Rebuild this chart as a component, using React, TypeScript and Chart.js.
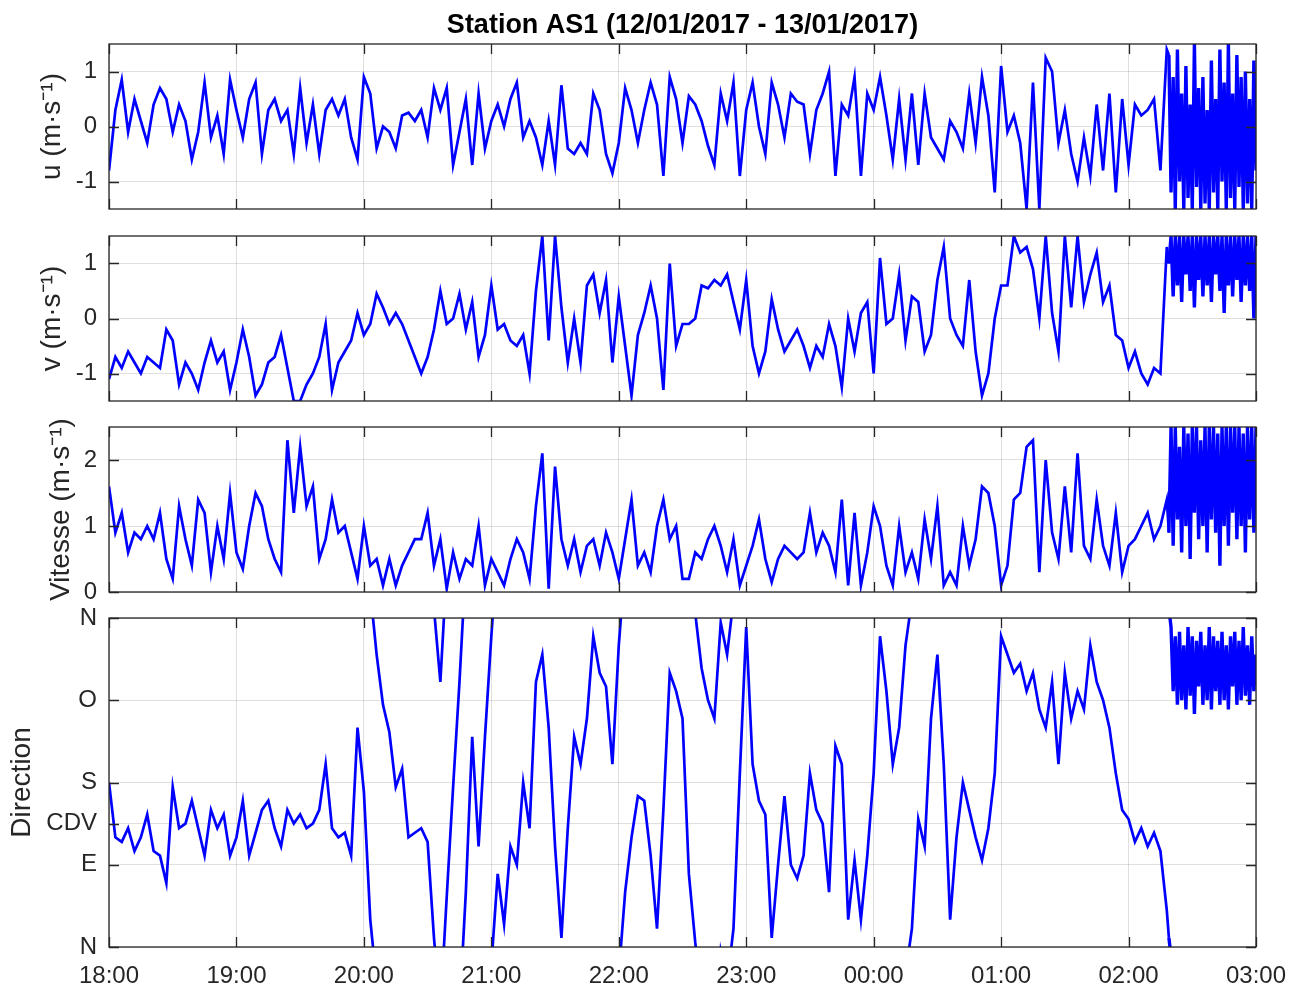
import React, { useEffect, useRef } from "react";
import { Chart, registerables } from "chart.js";

Chart.register(...registerables);

// ---------------- data ----------------
const TITLE = "Station AS1 (12/01/2017 - 13/01/2017)";
const START_HOUR = 18;
// minutes after 18:00 for each hour tick (18:00 ... 03:00)
const HOUR_TICKS = [0, 60, 120, 180, 240, 300, 360, 420, 480, 540];

// sampling: every 3 min from 18:00 to 02:18, then every minute 02:19 – 03:00
const COARSE_STEP_MIN = 3;
const COARSE_COUNT = 167;
const BURST_START_MIN = 499;
const BURST_COUNT = 42;
const sampleMinutes: number[] = [
  ...Array.from({ length: COARSE_COUNT }, (_, i) => i * COARSE_STEP_MIN),
  ...Array.from({ length: BURST_COUNT }, (_, i) => BURST_START_MIN + i),
];

// u (m/s)
const uCoarse = [
  -0.8, 0.3, 0.85, -0.1, 0.5, 0.1, -0.3, 0.4, 0.7, 0.5, -0.1, 0.4, 0.1, -0.6, -0.1, 0.8, -0.2, 0.2, -0.5, 0.85, 0.3,
  -0.2, 0.5, 0.8, -0.5, 0.3, 0.5, 0.1, 0.3, -0.5, 0.7, -0.3, 0.4, -0.5, 0.3, 0.5, 0.2, 0.5, -0.2, -0.6, 0.9,
  0.6, -0.4, 0.0, -0.1, -0.4, 0.2, 0.25, 0.1, 0.3, -0.2, 0.7, 0.3, 0.7, -0.7, -0.1, 0.5, -0.7, 0.6, -0.4, 0.1,
  0.4, 0.0, 0.5, 0.8, -0.2, 0.1, -0.2, -0.7, 0.1, -0.7, 0.75, -0.4, -0.5, -0.3, -0.5, 0.6, 0.3, -0.5, -0.85, -0.3,
  0.7, 0.3, -0.3, 0.3, 0.8, 0.4, -0.9, 0.9, 0.5, -0.3, 0.55, 0.4, 0.1, -0.35, -0.7, 0.6, 0.1, 0.8, -0.9, 0.3,
  0.8, 0.0, -0.5, 0.8, 0.4, -0.2, 0.6, 0.45, 0.4, -0.5, 0.3, 0.6, 1.0, -0.9, 0.4, 0.2, 0.9, -0.9, 0.6, 0.3,
  0.9, 0.2, -0.6, 0.5, -0.6, 0.6, -0.7, 0.6, -0.2, -0.4, -0.6, 0.1, -0.1, -0.4, 0.6, -0.3, 0.9, 0.2, -1.2, 1.1,
  -0.1, 0.2, -0.3, -1.5, 0.8, -1.5, 1.25, 1.0, -0.3, 0.3, -0.5, -1.0, -0.2, -0.9, 0.4, -0.8, 0.6, -1.2, 0.5, -0.7,
  0.4, 0.2, 0.3, 0.5, -0.8, 1.4,
];
const uBurst = [
  1.3, -1.2, 0.9, -1.5, 1.4, -1.0, 0.6, -1.5, 1.1, -1.3, 0.4, -1.5, 1.5, -1.1, 0.7, -1.5, 0.9, -1.4, 0.3, -1.5,
  1.2, -1.2, 0.5, -1.5, 1.4, -1.0, 0.8, -1.5, 1.5, -1.3, 0.6, -1.5, 1.3, -1.1, 0.9, -1.5, 1.0, -1.4, 0.5, -1.5,
  1.2, -0.8,
];

// v (m/s)
const vCoarse = [
  -1.1, -0.7, -0.9, -0.6, -0.8, -1.0, -0.7, -0.8, -0.9, -0.2, -0.4, -1.2, -0.8, -1.0, -1.3, -0.8, -0.4, -0.8, -0.6, -1.3, -0.8,
  -0.2, -0.7, -1.4, -1.2, -0.8, -0.7, -0.3, -0.9, -1.5, -1.5, -1.2, -1.0, -0.7, -0.1, -1.3, -0.8, -0.6, -0.4, 0.1, -0.3,
  -0.1, 0.45, 0.2, -0.1, 0.1, -0.1, -0.4, -0.7, -1.0, -0.7, -0.2, 0.5, -0.1, 0.0, 0.45, -0.2, 0.3, -0.7, -0.3, 0.6,
  -0.2, -0.1, -0.4, -0.5, -0.3, -1.0, 0.5, 1.5, -0.4, 1.5, 0.2, -0.8, 0.0, -0.8, 0.6, 0.8, 0.1, 0.7, -0.8, 0.4,
  -0.5, -1.4, -0.3, 0.1, 0.6, 0.0, -1.3, 1.0, -0.5, -0.1, -0.1, 0.0, 0.6, 0.55, 0.7, 0.6, 0.8, 0.3, -0.2, 0.7,
  -0.5, -1.0, -0.6, 0.35, -0.2, -0.6, -0.4, -0.2, -0.5, -0.9, -0.5, -0.7, -0.1, -0.5, -1.25, 0.0, -0.6, 0.1, 0.3, -1.0,
  1.1, -0.1, 0.0, 0.8, -0.4, 0.4, 0.3, -0.6, -0.3, 0.7, 1.3, 0.0, -0.3, -0.5, 0.7, -0.6, -1.4, -1.0, 0.0, 0.6,
  0.6, 1.5, 1.2, 1.3, 0.9, 0.0, 1.5, 0.1, -0.6, 1.5, 0.2, 1.5, 0.3, 0.8, 1.2, 0.3, 0.6, -0.3, -0.4, -0.9,
  -0.6, -1.0, -1.2, -0.9, -1.0, 1.3,
];
const vBurst = [
  1.0, 1.5, 0.4, 1.5, 0.6, 1.5, 0.3, 1.5, 0.8, 1.5, 0.5, 1.5, 0.2, 1.5, 0.7, 1.5, 0.4, 1.5, 0.6, 1.5,
  0.3, 1.5, 0.8, 1.5, 0.5, 1.5, 0.1, 1.5, 0.6, 1.5, 0.4, 1.5, 0.7, 1.5, 0.3, 1.5, 0.6, 1.5, 0.5, 1.5,
  0.0, 1.5,
];

// Vitesse (m/s)
const speedCoarse = [
  1.6, 0.9, 1.2, 0.6, 0.9, 0.8, 1.0, 0.8, 1.2, 0.5, 0.2, 1.3, 0.8, 0.4, 1.4, 1.2, 0.3, 1.0, 0.5, 1.5, 0.6,
  0.35, 1.0, 1.5, 1.3, 0.8, 0.5, 0.3, 2.3, 1.2, 2.2, 1.3, 1.6, 0.5, 0.8, 1.4, 0.9, 1.0, 0.6, 0.2, 1.0,
  0.4, 0.5, 0.1, 0.5, 0.1, 0.4, 0.6, 0.8, 0.8, 1.2, 0.4, 0.8, 0.05, 0.6, 0.2, 0.5, 0.4, 1.0, 0.1, 0.5,
  0.3, 0.1, 0.5, 0.8, 0.6, 0.2, 1.3, 2.1, 0.05, 1.9, 0.8, 0.4, 0.8, 0.3, 0.7, 0.8, 0.4, 0.9, 0.6, 0.2,
  0.8, 1.4, 0.4, 0.6, 0.3, 1.0, 1.4, 0.8, 1.0, 0.2, 0.2, 0.6, 0.5, 0.8, 1.0, 0.7, 0.3, 0.8, 0.1, 0.4,
  0.7, 1.1, 0.5, 0.15, 0.5, 0.7, 0.6, 0.5, 0.6, 1.2, 0.6, 0.9, 0.7, 0.3, 1.4, 0.1, 1.2, 0.1, 0.6, 1.3,
  1.0, 0.4, 0.1, 1.0, 0.3, 0.6, 0.2, 1.1, 0.5, 1.3, 0.1, 0.3, 0.1, 1.0, 0.4, 0.8, 1.6, 1.5, 1.0, 0.1,
  0.4, 1.4, 1.5, 2.2, 2.3, 0.3, 2.0, 0.9, 0.5, 1.6, 0.6, 2.1, 0.7, 0.5, 1.4, 0.7, 0.4, 1.2, 0.3, 0.7,
  0.8, 1.0, 1.2, 0.8, 1.0, 1.4,
];
const speedBurst = [
  0.9, 2.5, 0.7, 2.5, 1.1, 2.2, 0.6, 2.5, 1.0, 2.4, 0.5, 2.5, 1.2, 2.5, 0.8, 2.3, 1.0, 2.5, 0.6, 2.5,
  1.1, 2.5, 0.9, 2.4, 0.4, 2.5, 1.0, 2.5, 0.7, 2.5, 1.2, 2.5, 0.8, 2.5, 1.0, 2.4, 0.6, 2.5, 1.1, 2.5,
  0.9, 2.5,
];

// Direction (degrees, 0 = N, 90 = E, 180 = S, 270 = O)
const dirCoarse = [
  180, 120, 115, 130, 105, 120, 145, 105, 100, 70, 175, 130, 135, 160, 130, 100, 150, 130, 145, 100, 120,
  160, 100, 125, 150, 160, 130, 110, 150, 135, 145, 130, 135, 150, 200, 130, 120, 125, 100, 240, 170,
  30, 320, 265, 235, 175, 195, 120, 125, 130, 115, 10, 290, 55, 175, 290, 60, 230, 110, 230, 340,
  80, 25, 110, 90, 180, 130, 290, 320, 240, 110, 10, 130, 230, 200, 250, 340, 300, 285, 200, 330,
  60, 120, 165, 160, 100, 20, 150, 300, 280, 250, 80, 5, 305, 270, 250, 355, 320, 20, 190, 350,
  200, 160, 145, 10, 90, 165, 90, 75, 100, 190, 150, 135, 60, 220, 200, 30, 95, 30, 100, 190,
  340, 280, 200, 240, 330, 20, 140, 110, 250, 320, 200, 30, 120, 180, 150, 120, 95, 130, 190, 340,
  320, 300, 310, 280, 300, 260, 240, 290, 200, 300, 250, 280, 260, 330, 290, 270, 240, 190, 150, 140,
  115, 130, 110, 125, 105, 40,
];
const dirBurst = [
  10, 350, 280, 340, 265, 345, 270, 330, 260, 350, 275, 340, 255, 335, 285, 345, 265, 330, 270, 350,
  260, 340, 280, 335, 265, 345, 270, 330, 260, 340, 285, 345, 265, 335, 270, 350, 275, 330, 265, 340,
  280, 320,
];

const U_TICKS = [-1, 0, 1];
const V_TICKS = [-1, 0, 1];
const SPEED_TICKS = [0, 1, 2];
const DIR_TICKS = [0, 90, 135, 180, 270, 360];
const DIR_TICK_LABELS = ["N", "E", "CDV", "S", "O", "N"];

// ---------------- styling ----------------
const BLUE = "#0000ff";
const AXIS_COLOR = "#262626";
const GRID_COLOR = "rgba(38,38,38,0.15)";
const SANS = "'Liberation Sans', Arial, Helvetica, sans-serif";
const CANVAS_W = 1299;
const AREA_LEFT = 109;
const AREA_RIGHT = 1256;
const TICK_LEN = 10;
const TITLE_SIZE = 27;
const TITLE_PAD = { top: 3, bottom: 5 };
const TICK_FONT_SIZE = 24;
const LINE_W = 2.7;
const BURST_LINE_W = 3.4;

const hourLabel = (m: number) => `${String((START_HOUR + Math.round(m / 60)) % 24).padStart(2, "0")}:00`;

function unwrapDegrees(values: number[]): number[] {
  const out: number[] = [];
  values.forEach((v, i) => {
    if (i === 0) {
      out.push(v);
      return;
    }
    let d = v - values[i - 1];
    if (d > 180) d -= 360;
    if (d < -180) d += 360;
    out.push(out[i - 1] + d);
  });
  return out;
}

const framePlugin = {
  id: "matlabFrame",
  afterDraw(chart: any) {
    const { ctx, chartArea } = chart;
    const { left, right, top, bottom } = chartArea;
    const xs = chart.scales.x;
    const ys = chart.scales.y;
    ctx.save();
    ctx.strokeStyle = AXIS_COLOR;
    ctx.lineWidth = 1.3;
    ctx.beginPath();
    for (const t of xs.ticks) {
      const px = Math.round(xs.getPixelForValue(t.value)) + 0.5;
      ctx.moveTo(px, bottom);
      ctx.lineTo(px, bottom - TICK_LEN);
      ctx.moveTo(px, top);
      ctx.lineTo(px, top + TICK_LEN);
    }
    for (const t of ys.ticks) {
      const py = Math.round(ys.getPixelForValue(t.value)) + 0.5;
      ctx.moveTo(left, py);
      ctx.lineTo(left + TICK_LEN, py);
      ctx.moveTo(right, py);
      ctx.lineTo(right - TICK_LEN, py);
    }
    ctx.stroke();
    ctx.strokeRect(left, top, right - left, bottom - top);
    ctx.restore();
  },
};

type PanelCfg = {
  id: string;
  areaTop: number;
  areaBottom: number;
  min: number;
  max: number;
  ticks: number[];
  tickLabels?: string[];
  yTitle: string;
  yTitlePad: number;
  showTitle?: boolean;
  showX?: boolean;
  series: () => { x: number; y: number }[][];
};

const toPoints = (vals: number[]) => sampleMinutes.map((t, i) => ({ x: t, y: vals[i] }));

const PANELS: PanelCfg[] = [
  {
    id: "u", areaTop: 44, areaBottom: 209, min: -1.5, max: 1.5, ticks: U_TICKS,
    yTitle: "u (m·s⁻¹)", yTitlePad: 35, showTitle: true,
    series: () => [toPoints(uCoarse.concat(uBurst))],
  },
  {
    id: "v", areaTop: 236, areaBottom: 401, min: -1.5, max: 1.5, ticks: V_TICKS,
    yTitle: "v (m·s⁻¹)", yTitlePad: 35,
    series: () => [toPoints(vCoarse.concat(vBurst))],
  },
  {
    id: "speed", areaTop: 427, areaBottom: 592, min: 0, max: 2.5, ticks: SPEED_TICKS,
    yTitle: "Vitesse (m·s⁻¹)", yTitlePad: 44,
    series: () => [toPoints(speedCoarse.concat(speedBurst))],
  },
  {
    id: "dir", areaTop: 618, areaBottom: 947, min: 0, max: 360, ticks: DIR_TICKS, tickLabels: DIR_TICK_LABELS,
    yTitle: "Direction", yTitlePad: 5, showX: true,
    series: () => {
      const unwrapped = unwrapDegrees(dirCoarse.concat(dirBurst));
      const lo = Math.min(...unwrapped);
      const hi = Math.max(...unwrapped);
      const kMin = Math.floor(-hi / 360);
      const kMax = Math.ceil((360 - lo) / 360);
      const copies: { x: number; y: number }[][] = [];
      for (let k = kMin; k <= kMax; k++) {
        copies.push(sampleMinutes.map((t, i) => ({ x: t, y: unwrapped[i] + k * 360 })));
      }
      return copies;
    },
  },
];

function Panel({ cfg }: { cfg: PanelCfg }) {
  const ref = useRef<HTMLCanvasElement | null>(null);
  const padTop = 16;
  const padBottom = cfg.showX ? 0 : 16;
  const xAxisHeight = cfg.showX ? 41 : 0;
  const canvasTop = cfg.showTitle ? 0 : cfg.areaTop - padTop;
  const canvasHeight = cfg.showX ? 988 - canvasTop : cfg.areaBottom + padBottom - canvasTop;
  const titleBlock = TITLE_SIZE + TITLE_PAD.top + TITLE_PAD.bottom;
  const layoutTop = cfg.showTitle ? cfg.areaTop - titleBlock : padTop;

  useEffect(() => {
    const canvas = ref.current;
    if (!canvas) return;
    const datasets = cfg.series().map((pts) => ({
      data: pts,
      borderColor: BLUE,
      backgroundColor: BLUE,
      borderWidth: LINE_W,
      segment: {
        borderWidth: (c: any) => (c.p0.parsed.x >= BURST_START_MIN ? BURST_LINE_W : LINE_W),
      },
      pointRadius: 0,
      tension: 0,
      fill: false,
      spanGaps: false,
      clip: 0,
    }));
    const chart = new Chart(canvas, {
      type: "line",
      data: { datasets },
      plugins: [framePlugin],
      options: {
        animation: false,
        responsive: false,
        devicePixelRatio: 1,
        events: [],
        layout: { padding: { top: layoutTop, bottom: padBottom, left: 0, right: CANVAS_W - AREA_RIGHT } },
        plugins: {
          legend: { display: false },
          tooltip: { enabled: false },
          title: cfg.showTitle
            ? {
                display: true,
                text: TITLE,
                fullSize: false,
                color: "#000000",
                font: { family: SANS, size: TITLE_SIZE, weight: "bold", lineHeight: 1 },
                padding: TITLE_PAD,
              }
            : { display: false },
        },
        scales: {
          x: {
            type: "linear",
            min: 0,
            max: 540,
            afterBuildTicks: (s: any) => {
              s.ticks = HOUR_TICKS.map((v) => ({ value: v }));
            },
            afterFit: (s: any) => {
              s.height = xAxisHeight;
              s.paddingLeft = 0;
              s.paddingRight = 0;
            },
            grid: { color: GRID_COLOR, lineWidth: 1, drawTicks: false },
            border: { display: false },
            ticks: {
              display: !!cfg.showX,
              autoSkip: false,
              maxRotation: 0,
              padding: 15,
              color: AXIS_COLOR,
              font: { family: SANS, size: TICK_FONT_SIZE },
              callback: (v: any) => hourLabel(Number(v)),
            },
          },
          y: {
            type: "linear",
            min: cfg.min,
            max: cfg.max,
            afterBuildTicks: (s: any) => {
              s.ticks = cfg.ticks.map((v) => ({ value: v }));
            },
            afterFit: (s: any) => {
              s.width = AREA_LEFT;
              s.paddingTop = 0;
              s.paddingBottom = 0;
            },
            grid: { color: GRID_COLOR, lineWidth: 1, drawTicks: false },
            border: { display: false },
            ticks: {
              autoSkip: false,
              padding: 12,
              color: AXIS_COLOR,
              font: { family: SANS, size: TICK_FONT_SIZE },
              callback: (v: any) => {
                const n = Number(v);
                if (cfg.tickLabels) {
                  const idx = cfg.ticks.indexOf(n);
                  return idx >= 0 ? cfg.tickLabels[idx] : "";
                }
                return String(n);
              },
            },
            title: {
              display: true,
              text: cfg.yTitle,
              color: AXIS_COLOR,
              font: { family: SANS, size: 28, lineHeight: 1.2 },
              padding: { top: cfg.yTitlePad, bottom: 0 },
            },
          },
        },
      } as any,
    });
    return () => chart.destroy();
  }, []);

  return (
    <canvas
      ref={ref}
      width={CANVAS_W}
      height={canvasHeight}
      style={{ position: "absolute", left: 0, top: canvasTop, width: CANVAS_W, height: canvasHeight }}
    />
  );
}

export default function App() {
  return (
    <div style={{ position: "absolute", left: 0, top: 0, width: 1299, height: 988, background: "#ffffff", overflow: "hidden" }}>
      {PANELS.map((p) => (
        <Panel key={p.id} cfg={p} />
      ))}
    </div>
  );
}
